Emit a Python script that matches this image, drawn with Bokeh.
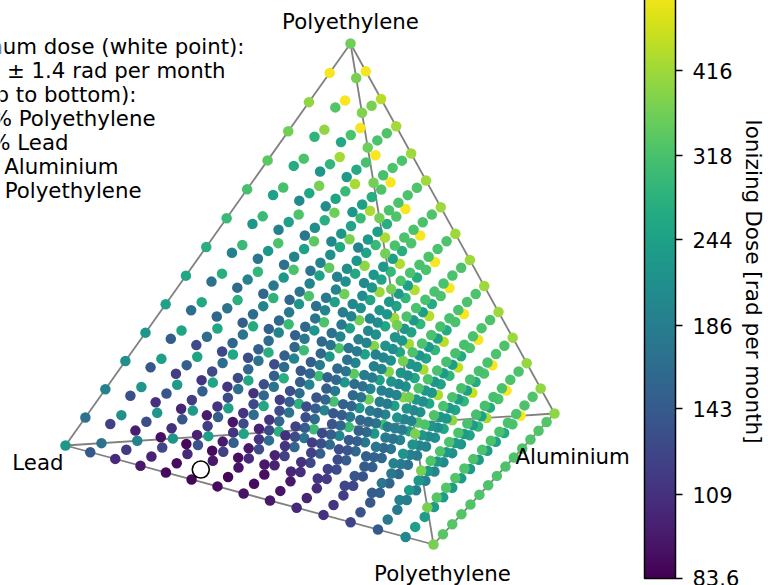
from math import pi
from bokeh.plotting import figure
from bokeh.models import ColumnDataSource, LogColorMapper, ColorBar, FixedTicker
from bokeh.core.properties import value
from bokeh.embed import file_html
from bokeh.resources import INLINE
from bokeh.palettes import Viridis256

# Ionizing dose [rad per month], read per composition.
# Each layer = fixed share of top polyethylene (a/14); within it rows run from most lead to none,
# and within a row from no bottom polyethylene upward.
layer_14 = [[360]]
layer_13 = [[530], [530, 370]]
layer_12 = [[400], [535, 330], [445, 370, 380]]
layer_11 = [[365], [400, 285], [530, 320, 260], [420, 325, 320, 360]]
layer_10 = [[340], [320, 265], [420, 290, 225], [535, 315, 265, 228], [415, 320, 320, 315, 365]]
layer_9 = [[315], [315, 245], [370, 255, 205], [425, 295, 250, 210], [535, 325, 270, 240, 225],
           [415, 325, 320, 320, 318, 365]]
layer_8 = [[295], [300, 225], [325, 245, 190], [360, 270, 215, 175], [430, 295, 250, 225, 200],
           [535, 325, 270, 240, 228, 195], [415, 325, 320, 320, 320, 318, 365]]
layer_7 = [[270], [300, 190], [320, 225, 175], [340, 245, 195, 170], [375, 262, 215, 195, 175],
           [430, 295, 250, 225, 210, 190], [535, 322, 268, 240, 230, 225, 205],
           [415, 322, 320, 320, 318, 318, 320, 365]]
layer_6 = [[255], [270, 170], [290, 192, 160], [320, 225, 178, 155], [345, 245, 195, 172, 155],
           [395, 260, 215, 195, 178, 170], [435, 292, 250, 225, 210, 200, 185],
           [535, 320, 265, 240, 230, 225, 222, 195], [415, 322, 320, 318, 318, 318, 320, 320, 365]]
layer_5 = [[245], [262, 165], [275, 172, 155], [280, 195, 162, 145], [320, 225, 178, 158, 150],
           [360, 245, 195, 172, 158, 150], [410, 258, 215, 195, 180, 170, 160],
           [440, 290, 250, 225, 210, 200, 190, 175], [535, 320, 265, 240, 230, 225, 222, 220, 190],
           [415, 322, 320, 318, 318, 316, 318, 320, 322, 368]]
layer_4 = [[225], [250, 145], [255, 165, 128], [265, 172, 155, 125], [295, 195, 162, 146, 130],
           [320, 225, 178, 158, 146, 130], [365, 245, 195, 172, 158, 148, 140],
           [415, 258, 215, 195, 180, 170, 160, 150], [445, 290, 250, 225, 210, 200, 190, 185, 165],
           [535, 320, 265, 240, 230, 225, 222, 220, 218, 190],
           [415, 322, 320, 318, 316, 316, 316, 318, 320, 322, 368]]
layer_3 = [[215], [240, 140], [250, 148, 118], [255, 165, 128, 112], [270, 172, 155, 126, 112],
           [305, 195, 162, 146, 130, 110], [320, 225, 178, 158, 146, 132, 118],
           [385, 245, 195, 172, 158, 148, 137, 130], [420, 258, 215, 195, 180, 170, 160, 150, 140],
           [450, 290, 250, 225, 210, 200, 190, 185, 180, 155],
           [535, 320, 265, 242, 232, 226, 224, 222, 220, 218, 185],
           [410, 322, 320, 318, 316, 316, 316, 318, 320, 322, 325, 370]]
layer_2 = [[190], [225, 132], [235, 138, 109], [250, 148, 118, 102], [258, 165, 128, 112, 96],
           [270, 172, 155, 126, 112, 94], [305, 195, 162, 146, 130, 112, 100],
           [340, 225, 178, 158, 146, 132, 120, 108], [385, 245, 195, 172, 158, 148, 137, 127, 118],
           [425, 258, 215, 195, 180, 170, 160, 150, 142, 130],
           [460, 290, 250, 225, 210, 200, 192, 186, 180, 175, 150],
           [535, 320, 265, 242, 232, 228, 226, 224, 222, 220, 220, 190],
           [405, 322, 320, 318, 316, 316, 316, 318, 320, 322, 325, 328, 370]]
layer_1 = [[170], [215, 120], [225, 130, 98], [230, 138, 108, 90], [245, 148, 118, 100, 87],
           [260, 165, 128, 112, 96, 88], [280, 172, 155, 126, 112, 95, 90],
           [315, 195, 162, 146, 130, 112, 101, 95], [360, 225, 178, 158, 146, 132, 120, 110, 102],
           [385, 245, 195, 172, 158, 148, 137, 127, 120, 112],
           [430, 258, 215, 195, 180, 170, 160, 152, 145, 138, 125],
           [470, 290, 250, 226, 212, 202, 194, 188, 182, 178, 175, 145],
           [540, 320, 265, 244, 234, 230, 228, 226, 226, 225, 225, 228, 190],
           [400, 325, 322, 320, 318, 318, 318, 320, 322, 325, 328, 330, 332, 370]]
layer_0 = [[225], [170, 140], [190, 115, 105], [220, 125, 100, 95], [240, 135, 105, 88, 88],
           [250, 148, 120, 94, 83.6, 86], [275, 165, 128, 105, 92, 86, 88],
           [295, 172, 155, 120, 100, 90, 88, 92], [300, 195, 162, 146, 125, 108, 95, 93, 96],
           [310, 225, 178, 158, 146, 130, 116, 105, 100, 103],
           [330, 245, 195, 172, 158, 148, 135, 125, 118, 112, 110],
           [400, 258, 215, 195, 180, 170, 160, 152, 146, 140, 135, 122],
           [430, 290, 250, 226, 212, 202, 196, 190, 186, 184, 182, 180, 142],
           [540, 320, 265, 245, 236, 232, 232, 232, 232, 234, 236, 238, 240, 200],
           [395, 330, 328, 326, 324, 322, 322, 322, 324, 326, 328, 330, 332, 335, 370]]
layers = {14: layer_14, 13: layer_13, 12: layer_12, 11: layer_11, 10: layer_10, 9: layer_9, 8: layer_8,
          7: layer_7, 6: layer_6, 5: layer_5, 4: layer_4, 3: layer_3, 2: layer_2, 1: layer_1, 0: layer_0}

colorbar_ticks = [83.6, 109, 143, 186, 244, 318, 416]
note_lines = ["Minimum dose (white point):", "83.6 \u00b1 1.4 rad per month", "Layers (top to bottom):",
              "0.0% Polyethylene", "7.1% Lead", "64.3% Aluminium", "28.6% Polyethylene"]

# Tetrahedron corners in the projection plane with perspective depth.
T, L, A, B = (350, 43), (65, 445), (554, 413), (433, 544)
zT, zL, zA, zB = 1.04, 1.066, 1.10, 1.0
N = 14


def project(a, l, c, p):
    w = [a * zT, l * zL, c * zA, p * zB]
    s = sum(w)
    return (sum(wi * v[0] for wi, v in zip(w, (T, L, A, B))) / s,
            sum(wi * v[1] for wi, v in zip(w, (T, L, A, B))) / s, s / N)


pts = []
for a, rows in layers.items():
    for row in rows:
        n = len(row) - 1
        l = N - a - n
        for p, d in enumerate(row):
            x, y, z = project(a, l, n - p, p)
            pts.append((z, x, y, d, l, p, a))
pts.sort(key=lambda t: -t[0])
assert len(pts) == 680
src = ColumnDataSource(dict(x=[t[1] for t in pts], y=[t[2] for t in pts], d=[t[3] for t in pts]))
best = min(pts, key=lambda t: t[3])

mapper = LogColorMapper(palette=Viridis256, low=83.6, high=545)
FONT = value("DejaVu Sans")
FS = "21.3px"

p = figure(width=768, height=585, x_range=(0, 768), y_range=(585, 0), output_backend="svg",
           toolbar_location=None, min_border=0, margin=(0, 0, 0, 0))
p.axis.visible = False
p.grid.visible = False
p.outline_line_color = None

for u, v in [(T, L), (T, A), (T, B), (L, A), (L, B), (A, B)]:
    p.line([u[0], v[0]], [u[1], v[1]], line_color="#808080", line_width=1.8)

p.scatter("x", "y", source=src, size=10.5, line_color=None,
          fill_color={"field": "d", "transform": mapper})
p.scatter([best[1] - 1.5], [best[2] - 0.5], size=17, fill_color="white", line_color="black", line_width=1.6)

p.text(x=[350, 442, 63, 515], y=[21, 573, 462, 456], text=["Polyethylene", "Polyethylene", "Lead", "Aluminium"],
       text_font=FONT, text_font_size=FS, text_color="black", text_baseline="middle",
       text_align=["center", "center", "right", "left"])

p.text(x=[244, 225, 136, 155, 68, 118, 141], y=[46, 70, 94, 118, 142, 166, 190], text=note_lines,
       text_font=FONT, text_font_size=FS, text_color="black", text_align="right", text_baseline="middle")

p.text(x=[753], y=[281], text=["Ionizing Dose [rad per month]"], angle=-pi / 2, text_font=FONT,
       text_font_size="21.6px", text_color="black", text_align="center", text_baseline="middle")

cb = ColorBar(color_mapper=mapper, width=31, height=593, location=(644, 7), padding=0, margin=0,
              ticker=FixedTicker(ticks=colorbar_ticks),
              major_label_overrides={t: str(t) for t in colorbar_ticks},
              major_label_text_font="DejaVu Sans", major_label_text_font_size="21px",
              major_label_text_color="black", major_tick_line_color="black", major_tick_line_width=1.5,
              major_tick_in=0, major_tick_out=7, label_standoff=10, bar_line_color="black",
              bar_line_width=1.5, background_fill_color=None, border_line_color=None, minor_tick_line_color=None)
p.add_layout(cb)

open("out.html", "w").write(file_html(p, INLINE))
